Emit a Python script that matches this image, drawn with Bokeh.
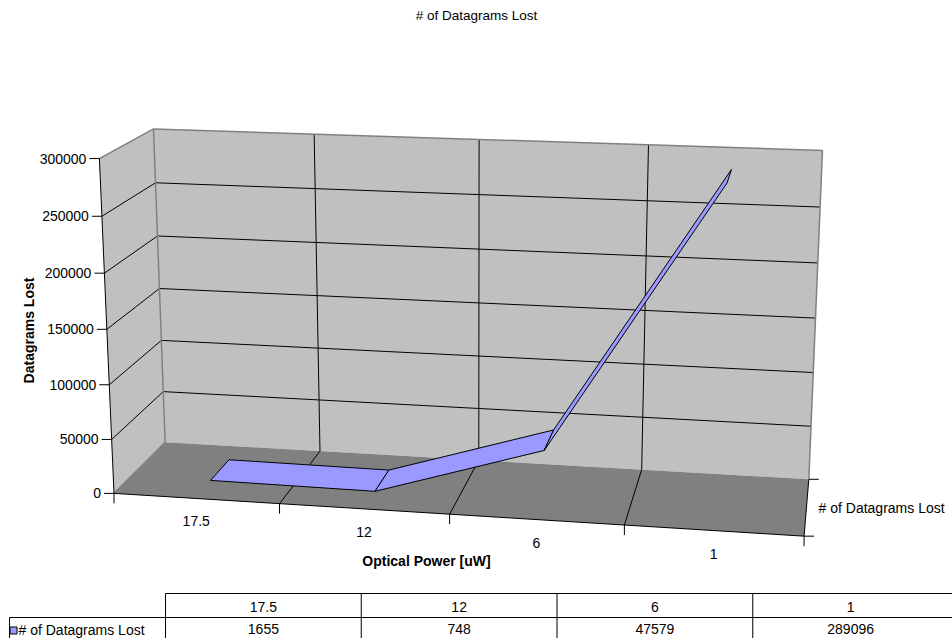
import math
import numpy as np
from bokeh.plotting import figure
from bokeh.models import Range1d
from bokeh.core.properties import value
from bokeh.embed import file_html
from bokeh.resources import INLINE

# ---- data ----
categories = ["17.5", "12", "6", "1"]
datagrams_lost = [1655, 748, 47579, 289096]
series_name = "# of Datagrams Lost"
value_ticks = [0, 50000, 100000, 150000, 200000, 250000, 300000]
value_max = 300000

# ---- 3D view: anchor points of the plot box (u = category, v = value fraction, w = depth) ----
frame_3d = np.array([
    (0, 0, 0), (1, 0, 0), (2, 0, 0), (3, 0, 0), (4, 0, 0),
    (0, 0, 1), (1, 0, 1), (2, 0, 1), (3, 0, 1), (4, 0, 1),
    (0, 1, 1), (4, 1, 1), (0, 1, 0), (1, 1, 1),
], dtype=float)
frame_px = np.array([
    (113, 493), (280, 502), (449, 514), (623, 525), (804, 536),
    (165, 442), (319, 451), (478, 460), (642, 469), (808, 478),
    (153, 128), (822, 150), (99, 158), (313.5, 134),
], dtype=float)


def fit_camera(pts3, pts2):
    rows = []
    for (U, V, W), (sx, sy) in zip(pts3, pts2):
        sx, sy = sx / 1000.0, sy / 1000.0
        rows.append([U, V, W, 1, 0, 0, 0, 0, -sx * U, -sx * V, -sx * W, -sx])
        rows.append([0, 0, 0, 0, U, V, W, 1, -sy * U, -sy * V, -sy * W, -sy])
    _, _, vt = np.linalg.svd(np.array(rows))
    return vt[-1].reshape(3, 4)


CAM = fit_camera(frame_3d, frame_px)


def proj(u, v, w):
    h = CAM @ np.array([u, v, w, 1.0])
    return h[0] / h[2] * 1000.0, h[1] / h[2] * 1000.0


def poly(pts):
    xy = [proj(*p) for p in pts]
    return [a for a, _ in xy], [b for _, b in xy]


ncat = len(categories)
FONT = value("Liberation Sans")

p = figure(width=952, height=638, x_range=Range1d(0, 952), y_range=Range1d(638, 0),
           output_backend="svg", toolbar_location=None, min_border=0)
p.axis.visible = False
p.grid.visible = False
p.outline_line_color = None
p.background_fill_color = "white"

# walls and floor
floor = poly([(0, 0, 0), (ncat, 0, 0), (ncat, 0, 1), (0, 0, 1)])
side = poly([(0, 0, 0), (0, 0, 1), (0, 1, 1), (0, 1, 0)])
back = poly([(0, 0, 1), (ncat, 0, 1), (ncat, 1, 1), (0, 1, 1)])
p.patches([back[0], side[0]], [back[1], side[1]], fill_color="#C0C0C0", line_color=None)
p.patch(floor[0], floor[1], fill_color="#808080", line_color=None)

# gridlines
gx, gy = [], []
for t in value_ticks[1:-1]:
    v = t / value_max
    a = poly([(0, v, 0), (0, v, 1), (ncat, v, 1)])
    gx.append(a[0]); gy.append(a[1])
for i in range(1, ncat):
    a = poly([(i, 0, 0), (i, 0, 1), (i, 1, 1)])
    gx.append(a[0]); gy.append(a[1])
p.multi_line(gx, gy, line_color="black", line_width=1)

# wall edges
ex, ey = [], []
for seg in [[(0, 1, 0), (0, 1, 1), (ncat, 1, 1), (ncat, 0, 1)],
            [(0, 0, 1), (0, 1, 1)], [(0, 0, 0), (0, 0, 1)]]:
    a = poly(seg)
    ex.append(a[0]); ey.append(a[1])
p.multi_line(ex, ey, line_color="#808080", line_width=1.5)

# axes lines
ax, ay = [], []
for seg in [[(0, 1, 0), (0, 0, 0), (ncat, 0, 0), (ncat, 0, 1)]]:
    a = poly(seg)
    ax.append(a[0]); ay.append(a[1])
# ticks
tl = 10
for t in value_ticks:
    x0, y0 = proj(0, t / value_max, 0)
    ax.append([x0 - tl, x0]); ay.append([y0, y0])
for i in range(ncat + 1):
    x0, y0 = proj(i, 0, 0)
    ax.append([x0, x0]); ay.append([y0, y0 + tl])
for w in (0, 1):
    x0, y0 = proj(ncat, 0, w)
    ax.append([x0, x0 + tl]); ay.append([y0, y0])
p.multi_line(ax, ay, line_color="black", line_width=1)

# data ribbon
wf, wb = 0.3, 0.7
rx, ry = [], []
for i in range(ncat - 1):
    v0 = datagrams_lost[i] / value_max
    v1 = datagrams_lost[i + 1] / value_max
    a = poly([(i + 0.5, v0, wf), (i + 1.5, v1, wf), (i + 1.5, v1, wb), (i + 0.5, v0, wb)])
    rx.append(a[0]); ry.append(a[1])
p.patches(rx, ry, fill_color="#9999FF", line_color="black", line_width=1)

# value tick labels
vx, vy = [], []
for t in value_ticks:
    x0, y0 = proj(0, t / value_max, 0)
    vx.append(x0 - 13); vy.append(y0)
p.text(vx, vy, text=[str(t) for t in value_ticks], text_font=FONT, text_font_size="14px",
       text_align="right", text_baseline="middle", text_color="black")

# category labels
cx, cy = [], []
for i in range(ncat):
    x0, y0 = proj(i + 0.5, 0, 0)
    cx.append(x0); cy.append(y0 + 23)
p.text(cx, cy, text=categories, text_font=FONT, text_font_size="14px",
       text_align="center", text_baseline="middle", text_color="black")

# series axis label
sx, sy = proj(ncat, 0, 0.5)
p.text([sx + 12], [sy + 1], text=[series_name], text_font=FONT, text_font_size="14px",
       text_align="left", text_baseline="middle", text_color="black")

# titles
p.text([476], [15], text=[series_name], text_font=FONT, text_font_size="13.5px",
       text_align="center", text_baseline="middle", text_color="black")
p.text([426], [560], text=["Optical Power [uW]"], text_font=FONT, text_font_size="14px",
       text_font_style="bold", text_align="center", text_baseline="middle", text_color="black")
p.text([28], [330], text=["Datagrams Lost"], text_font=FONT, text_font_size="14px",
       text_font_style="bold", text_align="center", text_baseline="middle",
       angle=math.pi / 2, text_color="black")

# data table
tbl_left, tbl_label_left, tbl_right = 165, 9, 948
row_top, row_mid, row_bot = 593, 617, 641
col_w = (tbl_right - tbl_left) / ncat
lx = [[tbl_left, tbl_right + 10], [tbl_label_left, tbl_right + 10],
      [tbl_left, tbl_left], [tbl_label_left, tbl_label_left]]
ly = [[row_top, row_top], [row_mid, row_mid], [row_top, row_bot], [row_mid, row_bot]]
for i in range(1, ncat):
    xc = tbl_left + i * col_w
    lx.append([xc, xc]); ly.append([row_top, row_bot])
p.multi_line(lx, ly, line_color="black", line_width=1)

centers = [tbl_left + (i + 0.5) * col_w for i in range(ncat)]
p.text(centers, [(row_top + row_mid) / 2 + 1] * ncat, text=categories, text_font=FONT,
       text_font_size="14px", text_align="center", text_baseline="middle", text_color="black")
p.text(centers, [(row_mid + row_bot) / 2 - 1] * ncat, text=[str(v) for v in datagrams_lost],
       text_font=FONT, text_font_size="14px", text_align="center", text_baseline="middle",
       text_color="black")
p.rect([13], [630], width=7, height=7, fill_color="#9999FF", line_color="black", line_width=1)
p.text([18], [629], text=[series_name], text_font=FONT, text_font_size="14px",
       text_align="left", text_baseline="middle", text_color="black")

open("out.html", "w").write(file_html(p, INLINE))
